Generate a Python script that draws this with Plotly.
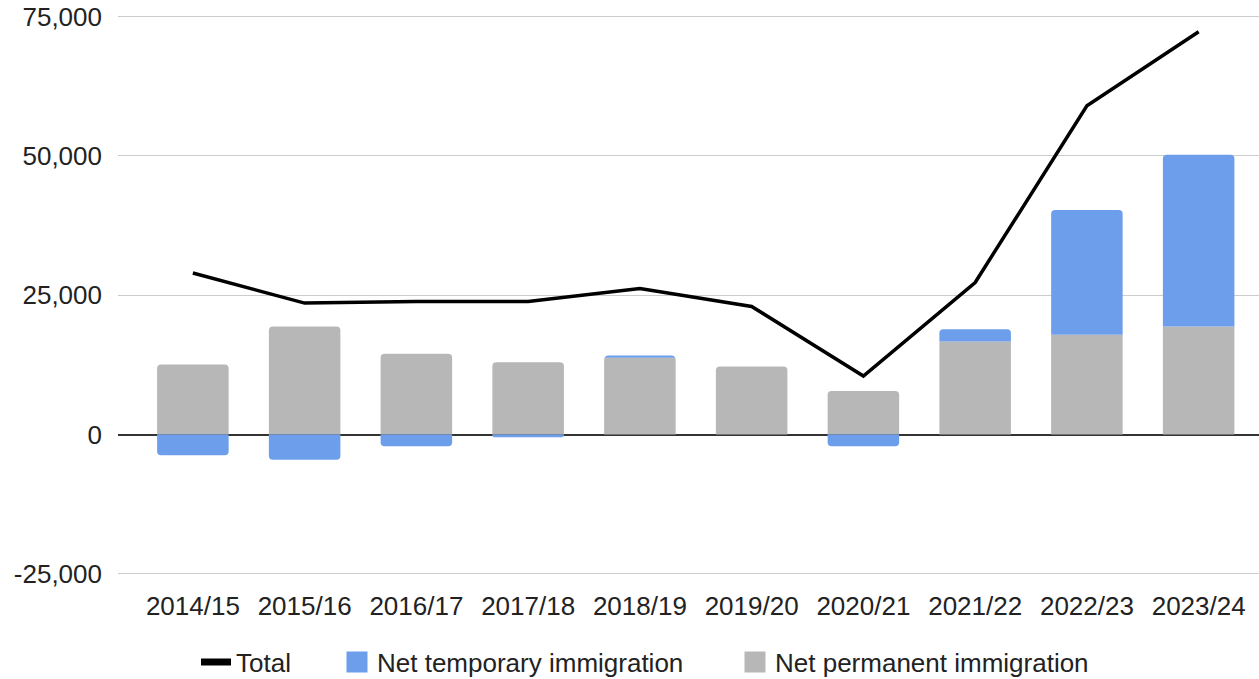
import plotly.graph_objects as go

years = ["2014/15", "2015/16", "2016/17", "2017/18", "2018/19",
         "2019/20", "2020/21", "2021/22", "2022/23", "2023/24"]
net_permanent = [12600, 19400, 14500, 13000, 13800, 12200, 7800, 16700, 17900, 19400]
net_temporary = [-3700, -4500, -2100, -500, 400, 0, -2100, 2200, 22400, 30800]
total = [29000, 23600, 23900, 23900, 26200, 23000, 10500, 27300, 59000, 72300]

y_ticks = [-25000, 0, 25000, 50000, 75000]
y_tick_labels = ["-25,000", "0", "25,000", "50,000", "75,000"]

font_family = "Liberation Sans, Arial, sans-serif"
text_color = "#222222"
blue = "#6d9eeb"
grey = "#b7b7b7"

W, H = 1259, 679

fig = go.Figure()

fig.add_trace(go.Bar(
    x=years, y=net_permanent,
    name="Net permanent immigration",
    marker=dict(color=grey, line=dict(width=0)),
    showlegend=False
))
fig.add_trace(go.Bar(
    x=years, y=net_temporary,
    name="Net temporary immigration",
    marker=dict(color=blue, line=dict(width=0)),
    showlegend=False
))
fig.add_trace(go.Scatter(
    x=years, y=total,
    name="Total",
    mode="lines",
    line=dict(color="#000000", width=3.5),
    showlegend=False
))

# legend-only entries (bigger symbols than plotly's default bar swatch)
fig.add_trace(go.Scatter(
    x=[None], y=[None], name="Total", mode="lines",
    line=dict(color="#000000", width=7), legend="legend"
))
fig.add_trace(go.Scatter(
    x=[None], y=[None], name="Net temporary immigration", mode="markers",
    marker=dict(symbol="square", size=16, color=blue, line=dict(color=blue, width=5)),
    legend="legend2"
))
fig.add_trace(go.Scatter(
    x=[None], y=[None], name="Net permanent immigration", mode="markers",
    marker=dict(symbol="square", size=16, color=grey, line=dict(color=grey, width=5)),
    legend="legend3"
))

legend_style = dict(
    orientation="h",
    xref="container", yref="container",
    xanchor="left",
    y=(H - 662) / H, yanchor="middle",
    font=dict(family=font_family, size=26, color=text_color),
    itemwidth=30,
    bgcolor="rgba(0,0,0,0)",
)

fig.update_layout(
    width=W, height=H,
    margin=dict(l=118, r=0, t=13, b=104, autoexpand=False),
    paper_bgcolor="white",
    plot_bgcolor="white",
    barmode="relative",
    bargap=0.36,
    barcornerradius=4,
    font=dict(family=font_family, size=26, color=text_color),
    showlegend=True,
    legend=dict(legend_style, x=196 / W),
    legend2=dict(legend_style, x=337 / W),
    legend3=dict(legend_style, x=735 / W),
)

fig.update_xaxes(
    range=[-0.67, 9.54],
    showgrid=False,
    showline=False,
    ticks="",
    ticklabelstandoff=13,
    tickfont=dict(size=26, color=text_color),
    automargin=False,
)

# a little headroom past -25,000 / 75,000 so both edge gridlines are drawn
fig.update_yaxes(
    range=[-25200, 75660],
    tickvals=y_ticks,
    ticktext=y_tick_labels,
    showgrid=True,
    gridcolor="#cccccc",
    gridwidth=1,
    zeroline=True,
    zerolinecolor="#333333",
    zerolinewidth=2,
    showline=False,
    ticks="",
    ticklabelstandoff=15,
    ticklabeloverflow="allow",
    tickfont=dict(size=26, color=text_color),
    automargin=False,
)

# drop the browser's default body margin so the figure fills the window
fig.write_html("out.html", config={"displayModeBar": False},
               post_script="document.body.style.margin = '0';")
